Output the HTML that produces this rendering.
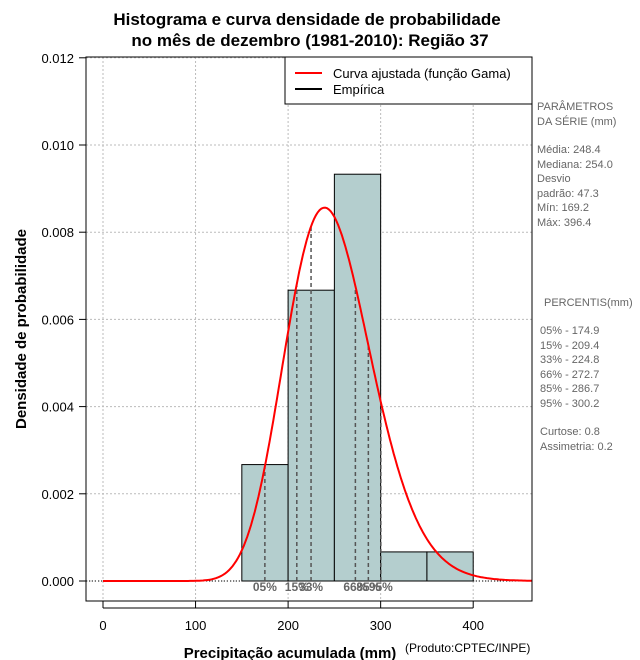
<!DOCTYPE html>
<html><head><meta charset="utf-8"><style>
body{margin:0;background:#fff;}
svg{display:block;font-family:"Liberation Sans",sans-serif;}
</style></head><body>
<svg id="c" width="640" height="660" xmlns="http://www.w3.org/2000/svg">
<g id="grid"></g>
<g id="bars"></g>
<g id="pct"></g>
<path id="curve" fill="none" stroke="#ff0000" stroke-width="2"/>
<rect x="86" y="57" width="446" height="544" fill="none" stroke="#000"/>
<g id="axes"></g>
<g>
<rect x="285" y="57" width="247" height="47" fill="#fff" stroke="#000"/>
<line x1="295" y1="73" x2="322" y2="73" stroke="#ff0000" stroke-width="2"/>
<text x="333" y="78" font-size="13">Curva ajustada (função Gama)</text>
<line x1="295" y1="89" x2="322" y2="89" stroke="#000" stroke-width="2"/>
<text x="333" y="94" font-size="13">Empírica</text>
</g>
<text x="307" y="25" font-size="17" font-weight="bold" text-anchor="middle">Histograma e curva densidade de probabilidade</text>
<text x="310" y="46" font-size="17" font-weight="bold" text-anchor="middle">no mês de dezembro (1981-2010): Região 37</text>
<text x="290" y="658" font-size="15" font-weight="bold" text-anchor="middle">Precipitação acumulada (mm)</text>
<text x="405" y="652" font-size="12">(Produto:CPTEC/INPE)</text>
<text transform="translate(26,329) rotate(-90)" font-size="15" font-weight="bold" text-anchor="middle">Densidade de probabilidade</text>
<g font-size="11" fill="#666">
<text x="537" y="110">PARÂMETROS</text><text x="537" y="125"> DA SÉRIE (mm)</text>
<text x="537" y="153">Média:  248.4</text><text x="537" y="168">Mediana:  254.0</text>
<text x="537" y="182">Desvio</text><text x="537" y="197">padrão:  47.3</text>
<text x="537" y="211">Mín:  169.2</text><text x="537" y="226">Máx:  396.4</text>
<text x="544" y="306">PERCENTIS(mm)</text>
<text x="540" y="334">05% -   174.9</text><text x="540" y="349">15% -   209.4</text>
<text x="540" y="363">33% -   224.8</text><text x="540" y="378">66% -   272.7</text>
<text x="540" y="392">85% -   286.7</text><text x="540" y="407">95% -   300.2</text>
<text x="540" y="435">Curtose:  0.8</text><text x="540" y="450">Assimetria:  0.2</text>
</g>
</svg>
<script>
const binEdges=[150,200,250,300,350,400];
const binDensity=[0.00267,0.00667,0.00933,0.000667,0.000667];
const xTicks=[0,100,200,300,400];
const yTicks=[0,0.002,0.004,0.006,0.008,0.010,0.012];
const yTickLabels=["0.000","0.002","0.004","0.006","0.008","0.010","0.012"];
const pctValues=[174.9,209.4,224.8,272.7,286.7,300.2];
const pctLabels=["05%","15%","33%","66%","85%","95%"];
const gammaMean=[248.4];
const gammaSd=[47.3];
const NS="http://www.w3.org/2000/svg";
const X=v=>103+v*0.9255;
const Y=v=>581-v*43600;
function mk(t,a,p){const e=document.createElementNS(NS,t);for(const k in a)e.setAttribute(k,a[k]);p.appendChild(e);return e;}
const k=Math.pow(gammaMean[0]/gammaSd[0],2), th=gammaSd[0]*gammaSd[0]/gammaMean[0];
function lgamma(z){const g=7,c=[0.99999999999980993,676.5203681218851,-1259.1392167224028,771.32342877765313,-176.61502916214059,12.507343278686905,-0.13857109526572012,9.9843695780195716e-6,1.5056327351493116e-7];z-=1;let x=c[0];for(let i=1;i<9;i++)x+=c[i]/(z+i);const t=z+g+0.5;return 0.5*Math.log(2*Math.PI)+(z+0.5)*Math.log(t)-t+Math.log(x);}
const pdf=x=>x<=0?0:Math.exp((k-1)*Math.log(x)-x/th-lgamma(k)-k*Math.log(th));
const grid=document.getElementById('grid'),axes=document.getElementById('axes');
xTicks.forEach(t=>{const l=mk('line',{x1:X(t),x2:X(t),y1:57,y2:601,stroke:'#bbb','stroke-dasharray':'2,2'},grid);

const tk=mk('line',{x1:X(t),x2:X(t),y1:601,y2:608,stroke:'#000'},axes);

const tx=mk('text',{x:X(t),y:630,'font-size':13,'text-anchor':'middle'},axes);tx.textContent=t;
});
mk('line',{x1:X(0),x2:X(400),y1:608,y2:608,stroke:'#000'},axes);
yTicks.forEach((t,i)=>{const l=mk('line',{x1:86,x2:532,y1:Y(t),y2:Y(t),stroke:'#bbb','stroke-dasharray':'2,2'},grid);

const tk=mk('line',{x1:79,x2:86,y1:Y(t),y2:Y(t),stroke:'#000'},axes);

const tx=mk('text',{x:74,y:Y(t)+5,'font-size':13,'text-anchor':'end'},axes);tx.textContent=yTickLabels[i];
});
const bars=document.getElementById('bars');
binDensity.forEach((d,i)=>{const r=mk('rect',{x:X(binEdges[i]),y:Y(d),width:X(binEdges[i+1])-X(binEdges[i]),height:Y(0)-Y(d),fill:'#b4cece',stroke:'#000'},bars);
});
mk('line',{x1:86,x2:532,y1:Y(0),y2:Y(0),stroke:'#000','stroke-dasharray':'1,2'},bars);
const pct=document.getElementById('pct');
pctValues.forEach((v,i)=>{const l=mk('line',{x1:X(v),x2:X(v),y1:Y(0),y2:Y(pdf(v)),stroke:'#555','stroke-width':1.5,'stroke-dasharray':'4,3'},pct);

const t=mk('text',{x:X(v),y:591,'font-size':12,'font-weight':'bold',fill:'#666','text-anchor':'middle'},pct);t.textContent=pctLabels[i];
});
let d='';for(let x=0;x<=464;x+=2){d+=(x?'L':'M')+X(x).toFixed(1)+','+Y(pdf(x)).toFixed(1);}
document.getElementById('curve').setAttribute('d',d);
</script>
</body></html>
